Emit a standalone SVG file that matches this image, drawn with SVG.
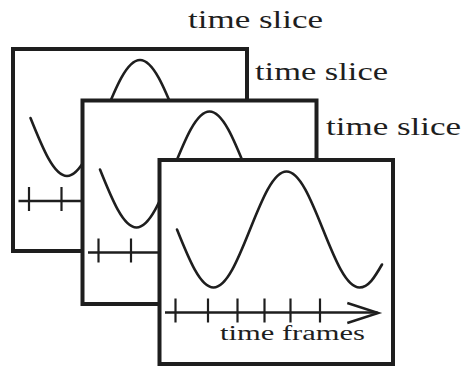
<svg xmlns="http://www.w3.org/2000/svg" xmlns:xlink="http://www.w3.org/1999/xlink" width="464" height="367" viewBox="0 0 464 367">
<style>
.frame{fill:#fff;stroke:#1e1e1e;stroke-width:4}
.wave{fill:none;stroke:#1e1e1e;stroke-width:2.6;stroke-linecap:round}
.axis{fill:none;stroke:#1e1e1e;stroke-width:2.4}
.tick{stroke:#1e1e1e;stroke-width:2.2}
.lbl{font-family:"Liberation Serif","Times New Roman",serif;fill:#1e1e1e}
</style>
<defs>
<g id="content">
<path class="wave" d="M17.5,69 C29.41,98.73 40.8,127 54,127 C67.2,127 78.59,98.73 90.5,69 C102.41,39.27 113.8,11 127,11 C140.2,11 151.59,39.27 163.5,69 C175.41,98.73 186.8,127 200,127 C209,127 215,117 222.5,104"/>
<line class="axis" x1="5.5" y1="152" x2="218" y2="152"/>
<polyline class="axis" points="187.8,142.5 218.8,152.5 187.8,162.5"/>
<g class="tick">
<line x1="16" y1="138" x2="16" y2="162"/>
<line x1="48.5" y1="138" x2="48.5" y2="162"/>
<line x1="78" y1="138" x2="78" y2="162"/>
<line x1="105" y1="138" x2="105" y2="162"/>
<line x1="131" y1="138" x2="131" y2="162"/>
<line x1="160.5" y1="138" x2="160.5" y2="162"/>
</g>
</g>
</defs>
<g id="slice1">
<rect class="frame" x="13" y="49" width="234" height="202"/>
<use xlink:href="#content" transform="translate(13,49)"/>
<text class="lbl" x="188" y="28" font-size="25" textLength="135" lengthAdjust="spacingAndGlyphs">time slice</text>
</g>
<g id="slice2">
<rect class="frame" x="82.5" y="100.5" width="234" height="203.5"/>
<use xlink:href="#content" transform="translate(82.5,100.5)"/>
<text class="lbl" x="255" y="80" font-size="25" textLength="133" lengthAdjust="spacingAndGlyphs">time slice</text>
</g>
<g id="slice3">
<rect class="frame" x="159.5" y="160" width="233.5" height="204"/>
<use xlink:href="#content" transform="translate(159.5,160.5)"/>
<text class="lbl" x="326" y="135" font-size="25" textLength="135" lengthAdjust="spacingAndGlyphs">time slice</text>
<text class="lbl" x="220" y="340" font-size="20" textLength="145" lengthAdjust="spacingAndGlyphs">time frames</text>
</g>
<g id="connectors"/>
</svg>
